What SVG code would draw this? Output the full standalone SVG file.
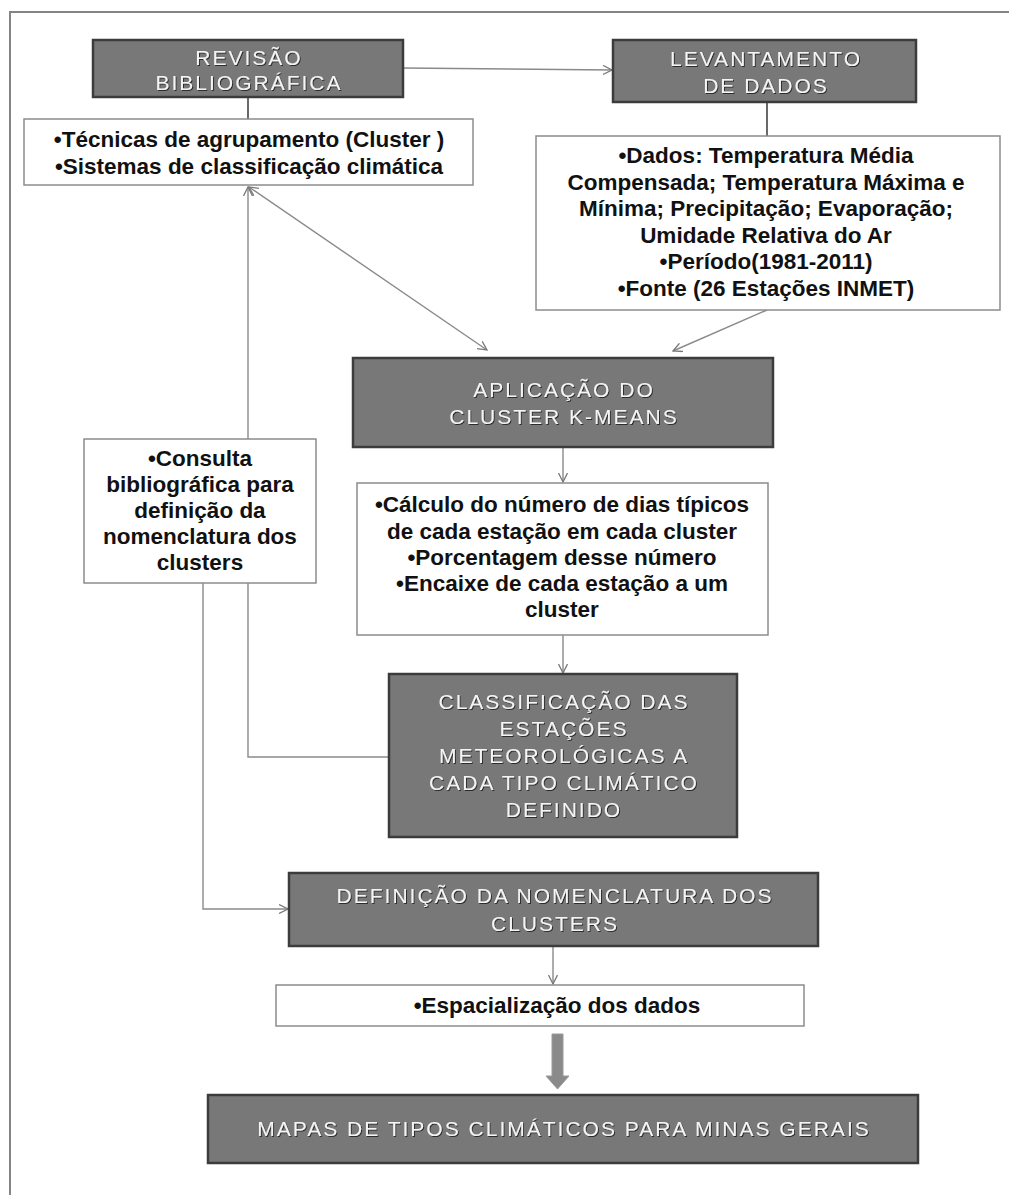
<svg xmlns="http://www.w3.org/2000/svg" width="1009" height="1195" viewBox="0 0 1009 1195">
<defs>
<style>
.gbox{fill:#787878;stroke:#3c3c3c;stroke-width:2.5}
.wbox{fill:#ffffff;stroke:#8c8c8c;stroke-width:1.5}
.ht{font-family:"Liberation Sans",Arial,sans-serif;font-size:21px;letter-spacing:2px;fill:#f4f4f4;text-anchor:middle;filter:url(#sh)}
.bt{font-family:"Liberation Sans",Arial,sans-serif;font-size:22.5px;font-weight:bold;fill:#111;text-anchor:middle}
.cn{fill:none;stroke:#8a8a8a;stroke-width:1.4}
.cd{fill:none;stroke:#444;stroke-width:1.6}
</style>
<filter id="sh" x="-5%" y="-20%" width="110%" height="150%">
<feDropShadow dx="1" dy="1" stdDeviation="0.6" flood-color="#222" flood-opacity="0.9"/>
</filter>
<marker id="ah" viewBox="0 0 10 10" refX="9" refY="5" markerWidth="10" markerHeight="10" markerUnits="userSpaceOnUse" orient="auto-start-reverse">
<path d="M0,0.5 L9,5 L0,9.5" fill="none" stroke="#7a7a7a" stroke-width="1.3"/>
</marker>
</defs>
<rect width="1009" height="1195" fill="#ffffff"/>
<path d="M10,1195 V12 H1009" fill="none" stroke="#858585" stroke-width="2"/>

<g id="connectors">
<line class="cn" x1="403" y1="68" x2="612" y2="70" marker-end="url(#ah)"/>
<line class="cd" x1="248" y1="97" x2="248" y2="119"/>
<line class="cd" x1="767" y1="102" x2="767" y2="136"/>
<line class="cn" x1="249" y1="187" x2="487" y2="350" marker-start="url(#ah)" marker-end="url(#ah)"/>
<line class="cn" x1="248" y1="439" x2="248" y2="187" marker-end="url(#ah)"/>
<line class="cn" x1="767" y1="310" x2="673" y2="351" marker-end="url(#ah)"/>
<line class="cn" x1="563" y1="447" x2="563" y2="482" marker-end="url(#ah)"/>
<line class="cn" x1="563" y1="635" x2="563" y2="673" marker-end="url(#ah)"/>
<polyline class="cn" points="248,583 248,757 389,757"/>
<polyline class="cn" points="203,583 203,909 288,909" marker-end="url(#ah)"/>
<line class="cn" x1="553" y1="946" x2="553" y2="984" marker-end="url(#ah)"/>
<path d="M552,1034 H563 V1076 H569 L557.5,1089 L546,1076 H552 Z" fill="#8a8a8a" stroke="#9a9a9a" stroke-width="1"/>
</g>

<g id="revisao">
<rect class="gbox" x="93" y="40" width="310" height="57"/>
<text class="ht" x="249" y="65">REVISÃO</text>
<text class="ht" x="249" y="90">BIBLIOGRÁFICA</text>
</g>

<g id="levantamento">
<rect class="gbox" x="613" y="40" width="303" height="62"/>
<text class="ht" x="766" y="66">LEVANTAMENTO</text>
<text class="ht" x="766" y="93">DE DADOS</text>
</g>

<g id="tecnicas">
<rect class="wbox" x="24" y="119" width="449" height="66"/>
<text class="bt" x="249" y="147">•Técnicas de agrupamento (Cluster )</text>
<text class="bt" x="249" y="174">•Sistemas de classificação climática</text>
</g>

<g id="dados">
<rect class="wbox" x="536" y="136" width="464" height="174"/>
<text class="bt" x="766" y="163">•Dados: Temperatura Média</text>
<text class="bt" x="766" y="190">Compensada; Temperatura Máxima e</text>
<text class="bt" x="766" y="216">Mínima; Precipitação;  Evaporação;</text>
<text class="bt" x="766" y="243">Umidade Relativa do Ar</text>
<text class="bt" x="766" y="269">•Período(1981-2011)</text>
<text class="bt" x="766" y="296">•Fonte (26 Estações INMET)</text>
</g>

<g id="aplicacao">
<rect class="gbox" x="353" y="358" width="420" height="89"/>
<text class="ht" x="564" y="397">APLICAÇÃO  DO</text>
<text class="ht" x="564" y="424">CLUSTER  K-MEANS</text>
</g>

<g id="calculo">
<rect class="wbox" x="357" y="483" width="411" height="152"/>
<text class="bt" x="562" y="512">•Cálculo do número de dias típicos</text>
<text class="bt" x="562" y="539">de cada estação em cada cluster</text>
<text class="bt" x="562" y="565">•Porcentagem desse número</text>
<text class="bt" x="562" y="591">•Encaixe de cada estação a um</text>
<text class="bt" x="562" y="617">cluster</text>
</g>

<g id="consulta">
<rect class="wbox" x="84" y="439" width="232" height="144"/>
<text class="bt" x="200" y="466">•Consulta</text>
<text class="bt" x="200" y="492">bibliográfica para</text>
<text class="bt" x="200" y="518">definição da</text>
<text class="bt" x="200" y="544">nomenclatura dos</text>
<text class="bt" x="200" y="570">clusters</text>
</g>

<g id="classificacao">
<rect class="gbox" x="389" y="674" width="348" height="163"/>
<text class="ht" x="564" y="709">CLASSIFICAÇÃO DAS</text>
<text class="ht" x="564" y="736">ESTAÇÕES</text>
<text class="ht" x="564" y="763">METEOROLÓGICAS A</text>
<text class="ht" x="564" y="790">CADA TIPO CLIMÁTICO</text>
<text class="ht" x="564" y="817">DEFINIDO</text>
</g>

<g id="definicao">
<rect class="gbox" x="289" y="873" width="529" height="73"/>
<text class="ht" x="555" y="903">DEFINIÇÃO DA NOMENCLATURA DOS</text>
<text class="ht" x="555" y="931">CLUSTERS</text>
</g>

<g id="espacializacao">
<rect class="wbox" x="276" y="985" width="528" height="41"/>
<text class="bt" x="557" y="1013">•Espacialização dos dados</text>
</g>

<g id="mapas">
<rect class="gbox" x="208" y="1095" width="710" height="68"/>
<text class="ht" x="564" y="1136">MAPAS DE TIPOS CLIMÁTICOS PARA MINAS GERAIS</text>
</g>
</svg>
